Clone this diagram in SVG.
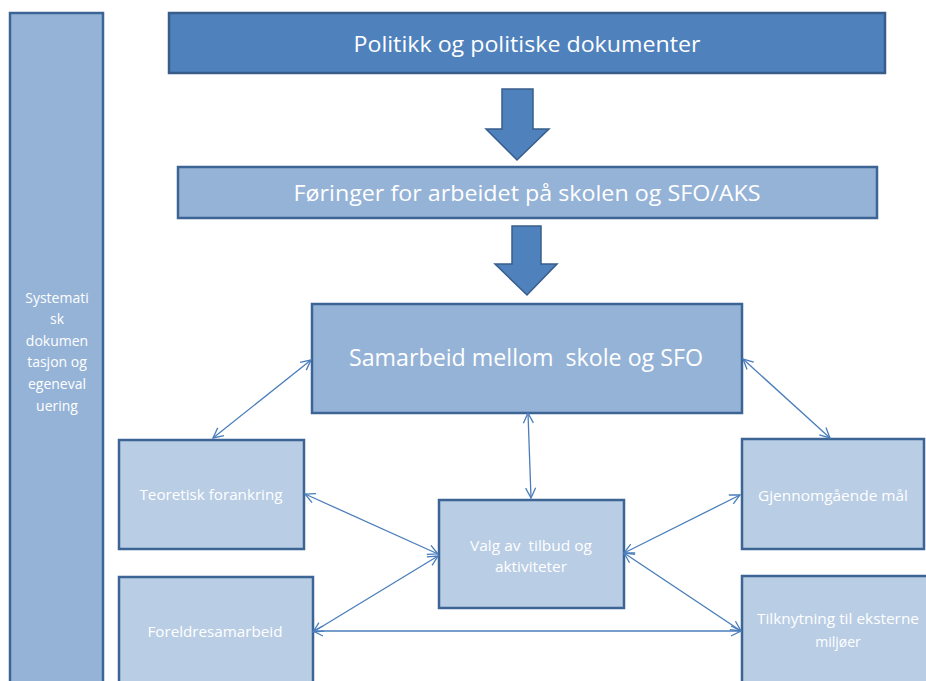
<svg xmlns="http://www.w3.org/2000/svg" width="926" height="681" viewBox="0 0 926 681">
<style>
.dark{fill:#4f81bd;stroke:#385d8a;stroke-width:2.5}
.mid{fill:#95b3d7;stroke:#3c6494;stroke-width:2.5}
.light{fill:#b9cde5;stroke:#3c6494;stroke-width:2.5}
.arrow{fill:#4f81bd;stroke:#385d8a;stroke-width:1.5;stroke-linejoin:miter}
text{font-family:"Open Sans","Liberation Sans",sans-serif;fill:#ffffff;text-anchor:middle}
.t22{font-size:21px}
.t24{font-size:23px}
.t14{font-size:14px}
.conn{stroke:#4a7ebb;stroke-width:1.3;fill:none;marker-start:url(#ah);marker-end:url(#ah)}
</style>
<defs>
<marker id="ah" viewBox="0 0 12 12" refX="11" refY="6" markerWidth="12" markerHeight="12" markerUnits="userSpaceOnUse" orient="auto-start-reverse">
<path d="M1,1 L11,6 L1,11" fill="none" stroke="#4a7ebb" stroke-width="1.3"/>
</marker>
</defs>
<rect width="926" height="681" fill="#ffffff"/>

<g id="sidebar">
<rect class="mid" x="10" y="13" width="93" height="680"/>
<text class="t14" x="57" y="303">Systemati</text>
<text class="t14" x="57" y="324">sk</text>
<text class="t14" x="57" y="346">dokumen</text>
<text class="t14" x="57" y="367">tasjon og</text>
<text class="t14" x="57" y="389">egeneval</text>
<text class="t14" x="57" y="411">uering</text>
</g>

<g id="politikk">
<rect class="dark" x="169" y="13" width="716" height="60"/>
<text class="t22" x="527" y="52" textLength="347" lengthAdjust="spacingAndGlyphs">Politikk og politiske dokumenter</text>
</g>

<g id="arrow1">
<polygon class="arrow" points="502,89 533,89 533,129 549,129 517,160 486,129 502,129"/>
</g>

<g id="foringer">
<rect class="mid" x="178" y="167" width="699" height="51"/>
<text class="t22" x="527" y="201" textLength="467" lengthAdjust="spacingAndGlyphs">Føringer for arbeidet på skolen og SFO/AKS</text>
</g>

<g id="arrow2">
<polygon class="arrow" points="512,226 541,226 541,264 557,264 527,295 495,264 512,264"/>
</g>

<g id="samarbeid">
<rect class="mid" x="312" y="304" width="430" height="109"/>
<text class="t24" x="526" y="366" textLength="354" lengthAdjust="spacingAndGlyphs" xml:space="preserve">Samarbeid mellom  skole og SFO</text>
</g>

<g id="teoretisk">
<rect class="light" x="119" y="440" width="185" height="109"/>
<text class="t14" x="211" y="500" textLength="143" lengthAdjust="spacingAndGlyphs">Teoretisk forankring</text>
</g>

<g id="foreldre">
<rect class="light" x="119" y="577" width="194" height="120"/>
<text class="t14" x="215" y="637" textLength="135" lengthAdjust="spacingAndGlyphs">Foreldresamarbeid</text>
</g>

<g id="valg">
<rect class="light" x="439" y="500" width="185" height="108"/>
<text class="t14" x="531" y="551" textLength="122" lengthAdjust="spacingAndGlyphs" xml:space="preserve">Valg av  tilbud og</text>
<text class="t14" x="531" y="572" textLength="72" lengthAdjust="spacingAndGlyphs">aktiviteter</text>
</g>

<g id="gjennomgaende">
<rect class="light" x="742" y="439" width="182" height="110"/>
<text class="t14" x="833" y="501" textLength="150" lengthAdjust="spacingAndGlyphs">Gjennomgående mål</text>
</g>

<g id="tilknytning">
<rect class="light" x="742" y="576" width="195" height="120"/>
<text class="t14" x="838" y="624" textLength="162" lengthAdjust="spacingAndGlyphs">Tilknytning til eksterne</text>
<text class="t14" x="838" y="647">miljøer</text>
</g>

<g id="connectors">
<line class="conn" x1="311" y1="360" x2="213" y2="438"/>
<line class="conn" x1="743" y1="359" x2="830" y2="438"/>
<line class="conn" x1="528" y1="413" x2="531" y2="498"/>
<line class="conn" x1="305" y1="494" x2="438" y2="554"/>
<line class="conn" x1="313" y1="632" x2="438" y2="556"/>
<line class="conn" x1="624" y1="553" x2="740" y2="495"/>
<line class="conn" x1="624" y1="553" x2="741" y2="631"/>
<line class="conn" x1="313" y1="631" x2="741" y2="631"/>
</g>
</svg>
